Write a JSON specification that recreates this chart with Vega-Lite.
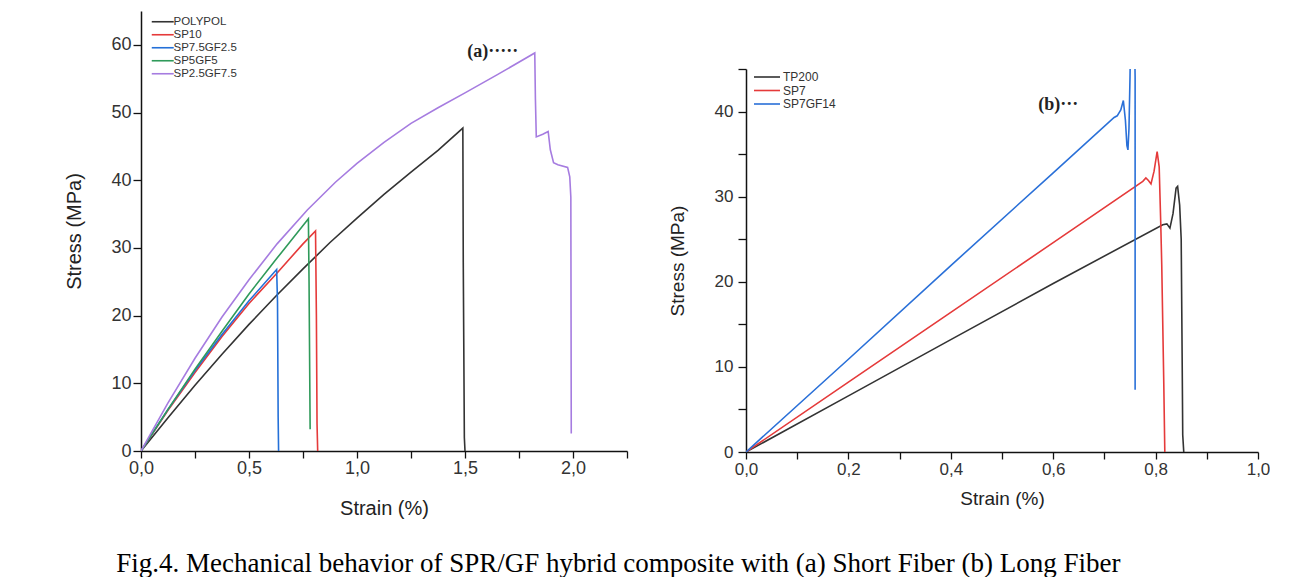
{
  "$schema": "https://vega.github.io/schema/vega-lite/v6.json",
  "padding": {"left": 64, "top": 11, "right": 0, "bottom": 0},
  "background": "white",
  "title": {
    "text": "Fig.4. Mechanical behavior of SPR/GF hybrid composite with (a) Short Fiber (b) Long Fiber",
    "orient": "bottom", "anchor": "middle", "font": "Liberation Serif", "fontSize": 27,
    "fontWeight": "normal", "color": "black", "offset": 33, "dx": -49
  },
  "datasets": {
    "short": [
      {"sample": "POLYPOL", "i": 0, "strain": 0, "stress": 0},
      {"sample": "POLYPOL", "i": 1, "strain": 0.125, "stress": 4.9},
      {"sample": "POLYPOL", "i": 2, "strain": 0.25, "stress": 9.7},
      {"sample": "POLYPOL", "i": 3, "strain": 0.375, "stress": 14.3},
      {"sample": "POLYPOL", "i": 4, "strain": 0.5, "stress": 18.7},
      {"sample": "POLYPOL", "i": 5, "strain": 0.625, "stress": 22.9},
      {"sample": "POLYPOL", "i": 6, "strain": 0.75, "stress": 26.9},
      {"sample": "POLYPOL", "i": 7, "strain": 0.875, "stress": 30.8},
      {"sample": "POLYPOL", "i": 8, "strain": 1.0, "stress": 34.4},
      {"sample": "POLYPOL", "i": 9, "strain": 1.125, "stress": 37.9},
      {"sample": "POLYPOL", "i": 10, "strain": 1.25, "stress": 41.2},
      {"sample": "POLYPOL", "i": 11, "strain": 1.375, "stress": 44.4},
      {"sample": "POLYPOL", "i": 12, "strain": 1.49, "stress": 47.7},
      {"sample": "POLYPOL", "i": 13, "strain": 1.492, "stress": 27.8},
      {"sample": "POLYPOL", "i": 14, "strain": 1.497, "stress": 2},
      {"sample": "POLYPOL", "i": 15, "strain": 1.5, "stress": 0},
      {"sample": "SP10", "i": 0, "strain": 0, "stress": 0},
      {"sample": "SP10", "i": 1, "strain": 0.125, "stress": 6.0},
      {"sample": "SP10", "i": 2, "strain": 0.25, "stress": 11.6},
      {"sample": "SP10", "i": 3, "strain": 0.375, "stress": 16.9},
      {"sample": "SP10", "i": 4, "strain": 0.5, "stress": 21.8},
      {"sample": "SP10", "i": 5, "strain": 0.63, "stress": 26.3},
      {"sample": "SP10", "i": 6, "strain": 0.75, "stress": 30.6},
      {"sample": "SP10", "i": 7, "strain": 0.808, "stress": 32.5},
      {"sample": "SP10", "i": 8, "strain": 0.812, "stress": 20},
      {"sample": "SP10", "i": 9, "strain": 0.815, "stress": 4},
      {"sample": "SP10", "i": 10, "strain": 0.818, "stress": 0},
      {"sample": "SP7.5GF2.5", "i": 0, "strain": 0, "stress": 0},
      {"sample": "SP7.5GF2.5", "i": 1, "strain": 0.125, "stress": 6.15},
      {"sample": "SP7.5GF2.5", "i": 2, "strain": 0.25, "stress": 11.9},
      {"sample": "SP7.5GF2.5", "i": 3, "strain": 0.375, "stress": 17.2},
      {"sample": "SP7.5GF2.5", "i": 4, "strain": 0.5, "stress": 22.2},
      {"sample": "SP7.5GF2.5", "i": 5, "strain": 0.628, "stress": 26.8},
      {"sample": "SP7.5GF2.5", "i": 6, "strain": 0.632, "stress": 22},
      {"sample": "SP7.5GF2.5", "i": 7, "strain": 0.635, "stress": 5},
      {"sample": "SP7.5GF2.5", "i": 8, "strain": 0.637, "stress": 0},
      {"sample": "SP5GF5", "i": 0, "strain": 0, "stress": 0},
      {"sample": "SP5GF5", "i": 1, "strain": 0.125, "stress": 6.15},
      {"sample": "SP5GF5", "i": 2, "strain": 0.25, "stress": 12.1},
      {"sample": "SP5GF5", "i": 3, "strain": 0.375, "stress": 17.7},
      {"sample": "SP5GF5", "i": 4, "strain": 0.5, "stress": 23.2},
      {"sample": "SP5GF5", "i": 5, "strain": 0.63, "stress": 28.5},
      {"sample": "SP5GF5", "i": 6, "strain": 0.775, "stress": 34.3},
      {"sample": "SP5GF5", "i": 7, "strain": 0.778, "stress": 25},
      {"sample": "SP5GF5", "i": 8, "strain": 0.783, "stress": 3.2},
      {"sample": "SP2.5GF7.5", "i": 0, "strain": 0, "stress": 0},
      {"sample": "SP2.5GF7.5", "i": 1, "strain": 0.125, "stress": 7.1},
      {"sample": "SP2.5GF7.5", "i": 2, "strain": 0.25, "stress": 13.7},
      {"sample": "SP2.5GF7.5", "i": 3, "strain": 0.375, "stress": 19.8},
      {"sample": "SP2.5GF7.5", "i": 4, "strain": 0.5, "stress": 25.3},
      {"sample": "SP2.5GF7.5", "i": 5, "strain": 0.63, "stress": 30.6},
      {"sample": "SP2.5GF7.5", "i": 6, "strain": 0.77, "stress": 35.6},
      {"sample": "SP2.5GF7.5", "i": 7, "strain": 0.9, "stress": 39.7},
      {"sample": "SP2.5GF7.5", "i": 8, "strain": 1.0, "stress": 42.5},
      {"sample": "SP2.5GF7.5", "i": 9, "strain": 1.125, "stress": 45.6},
      {"sample": "SP2.5GF7.5", "i": 10, "strain": 1.25, "stress": 48.4},
      {"sample": "SP2.5GF7.5", "i": 11, "strain": 1.375, "stress": 50.7},
      {"sample": "SP2.5GF7.5", "i": 12, "strain": 1.5, "stress": 52.9},
      {"sample": "SP2.5GF7.5", "i": 13, "strain": 1.65, "stress": 55.6},
      {"sample": "SP2.5GF7.5", "i": 14, "strain": 1.823, "stress": 58.8},
      {"sample": "SP2.5GF7.5", "i": 15, "strain": 1.826, "stress": 52},
      {"sample": "SP2.5GF7.5", "i": 16, "strain": 1.83, "stress": 46.4},
      {"sample": "SP2.5GF7.5", "i": 17, "strain": 1.86, "stress": 46.8},
      {"sample": "SP2.5GF7.5", "i": 18, "strain": 1.885, "stress": 47.2},
      {"sample": "SP2.5GF7.5", "i": 19, "strain": 1.895, "stress": 44.5},
      {"sample": "SP2.5GF7.5", "i": 20, "strain": 1.91, "stress": 42.6},
      {"sample": "SP2.5GF7.5", "i": 21, "strain": 1.93, "stress": 42.3},
      {"sample": "SP2.5GF7.5", "i": 22, "strain": 1.975, "stress": 41.9},
      {"sample": "SP2.5GF7.5", "i": 23, "strain": 1.985, "stress": 40.5},
      {"sample": "SP2.5GF7.5", "i": 24, "strain": 1.99, "stress": 37.5},
      {"sample": "SP2.5GF7.5", "i": 25, "strain": 1.991, "stress": 20},
      {"sample": "SP2.5GF7.5", "i": 26, "strain": 1.992, "stress": 2.6}
    ],
    "long": [
      {"sample": "TP200", "i": 0, "strain": 0, "stress": 0},
      {"sample": "TP200", "i": 1, "strain": 0.2, "stress": 6.6},
      {"sample": "TP200", "i": 2, "strain": 0.4, "stress": 13.2},
      {"sample": "TP200", "i": 3, "strain": 0.6, "stress": 19.8},
      {"sample": "TP200", "i": 4, "strain": 0.814, "stress": 26.7},
      {"sample": "TP200", "i": 5, "strain": 0.822, "stress": 26.8},
      {"sample": "TP200", "i": 6, "strain": 0.828, "stress": 26.3},
      {"sample": "TP200", "i": 7, "strain": 0.834, "stress": 28},
      {"sample": "TP200", "i": 8, "strain": 0.84, "stress": 31},
      {"sample": "TP200", "i": 9, "strain": 0.843, "stress": 31.2},
      {"sample": "TP200", "i": 10, "strain": 0.847, "stress": 29},
      {"sample": "TP200", "i": 11, "strain": 0.85, "stress": 25},
      {"sample": "TP200", "i": 12, "strain": 0.852, "stress": 10},
      {"sample": "TP200", "i": 13, "strain": 0.853, "stress": 2},
      {"sample": "TP200", "i": 14, "strain": 0.855, "stress": 0},
      {"sample": "SP7", "i": 0, "strain": 0, "stress": 0},
      {"sample": "SP7", "i": 1, "strain": 0.2, "stress": 8.2},
      {"sample": "SP7", "i": 2, "strain": 0.4, "stress": 16.4},
      {"sample": "SP7", "i": 3, "strain": 0.6, "stress": 24.6},
      {"sample": "SP7", "i": 4, "strain": 0.775, "stress": 31.8},
      {"sample": "SP7", "i": 5, "strain": 0.781, "stress": 32.2},
      {"sample": "SP7", "i": 6, "strain": 0.786, "stress": 31.9},
      {"sample": "SP7", "i": 7, "strain": 0.791, "stress": 31.5},
      {"sample": "SP7", "i": 8, "strain": 0.797, "stress": 33},
      {"sample": "SP7", "i": 9, "strain": 0.803, "stress": 35.3},
      {"sample": "SP7", "i": 10, "strain": 0.807, "stress": 33.5},
      {"sample": "SP7", "i": 11, "strain": 0.81, "stress": 27},
      {"sample": "SP7", "i": 12, "strain": 0.812, "stress": 22},
      {"sample": "SP7", "i": 13, "strain": 0.816, "stress": 8},
      {"sample": "SP7", "i": 14, "strain": 0.818, "stress": 0},
      {"sample": "SP7GF14", "i": 0, "strain": 0, "stress": 0},
      {"sample": "SP7GF14", "i": 1, "strain": 0.2, "stress": 10.9},
      {"sample": "SP7GF14", "i": 2, "strain": 0.4, "stress": 21.9},
      {"sample": "SP7GF14", "i": 3, "strain": 0.6, "stress": 32.8},
      {"sample": "SP7GF14", "i": 4, "strain": 0.719, "stress": 39.3},
      {"sample": "SP7GF14", "i": 5, "strain": 0.725, "stress": 39.5},
      {"sample": "SP7GF14", "i": 6, "strain": 0.732, "stress": 40.2},
      {"sample": "SP7GF14", "i": 7, "strain": 0.737, "stress": 41.3},
      {"sample": "SP7GF14", "i": 8, "strain": 0.741, "stress": 39},
      {"sample": "SP7GF14", "i": 9, "strain": 0.744, "stress": 36},
      {"sample": "SP7GF14", "i": 10, "strain": 0.746, "stress": 35.5},
      {"sample": "SP7GF14", "i": 11, "strain": 0.748, "stress": 38},
      {"sample": "SP7GF14", "i": 12, "strain": 0.75, "stress": 44},
      {"sample": "SP7GF14", "i": 13, "strain": 0.752, "stress": 52},
      {"sample": "SP7GF14", "i": 14, "strain": 0.758, "stress": 52},
      {"sample": "SP7GF14", "i": 15, "strain": 0.76, "stress": 44},
      {"sample": "SP7GF14", "i": 16, "strain": 0.76, "stress": 7.3}
    ],
    "annA": [{"label": "(a)·····", "strain": 1.51, "stress": 59}],
    "annB": [{"label": "(b)···", "strain": 0.571, "stress": 40.8}],
    "empty": []
  },
  "spacing": 40,
  "hconcat": [
    {
      "width": 486,
      "height": 440,
      "layer": [
        {
          "data": {"name": "short"},
          "mark": {"type": "line", "strokeWidth": 1.6, "clip": true},
          "encoding": {
            "x": {
              "field": "strain", "type": "quantitative",
              "scale": {"domain": [0, 2.25], "nice": false, "zero": false},
              "axis": {
                "title": "Strain (%)",
                "values": [0, 0.25, 0.5, 0.75, 1, 1.25, 1.5, 1.75, 2, 2.25],
                "labelExpr": "round(datum.value*100) % 50 == 0 ? replace(format(datum.value, '.1f'), '.', ',') : ''",
                "labelFontSize": 18, "titleFontSize": 20, "labelPadding": 1, "titlePadding": 21,
                "tickSize": 7
              }
            },
            "y": {
              "field": "stress", "type": "quantitative",
              "scale": {"domain": [0, 65], "nice": false},
              "axis": {
                "title": "Stress (MPa)",
                "values": [0, 5, 10, 15, 20, 25, 30, 35, 40, 45, 50, 55, 60, 65],
                "labelExpr": "datum.value % 10 == 0 ? datum.value : ''",
                "labelFontSize": 18, "titleFontSize": 20, "labelPadding": 2, "titlePadding": 26,
                "tickSize": 8
              }
            },
            "color": {
              "field": "sample", "type": "nominal",
              "scale": {
                "domain": ["POLYPOL", "SP10", "SP7.5GF2.5", "SP5GF5", "SP2.5GF7.5"],
                "range": ["#333333", "#e53a3a", "#2470d8", "#2f9a5a", "#a67ce0"]
              },
              "legend": {
                "title": null, "orient": "none", "legendX": 16, "legendY": 5,
                "symbolType": "M-11,0H11", "symbolSize": 4, "symbolStrokeWidth": 1.6,
                "labelOffset": 5, "labelFontSize": 11.5, "rowPadding": 0, "padding": 0,
                "labelColor": "#333"
              }
            },
            "order": {"field": "i", "type": "quantitative"}
          }
        },
        {
          "data": {"name": "annA"},
          "mark": {"type": "text", "align": "left", "baseline": "middle", "font": "Liberation Serif", "fontWeight": "bold", "fontSize": 18, "color": "#222"},
          "encoding": {
            "x": {"field": "strain", "type": "quantitative"},
            "y": {"field": "stress", "type": "quantitative"},
            "text": {"field": "label"}
          }
        }
      ]
    },
    {
      "spacing": 10,
      "vconcat": [
        {
          "width": 512,
          "height": 39,
          "data": {"name": "empty"},
          "mark": "point"
        },
        {
          "width": 512,
          "height": 383,
          "layer": [
            {
              "data": {"name": "long"},
              "mark": {"type": "line", "strokeWidth": 1.6, "clip": true},
              "encoding": {
                "x": {
                  "field": "strain", "type": "quantitative",
                  "scale": {"domain": [0, 1], "nice": false, "zero": false},
                  "axis": {
                    "title": "Strain (%)",
                    "values": [0, 0.1, 0.2, 0.3, 0.4, 0.5, 0.6, 0.7, 0.8, 0.9, 1],
                    "labelExpr": "round(datum.value*10) % 2 == 0 ? replace(format(datum.value, '.1f'), '.', ',') : ''",
                    "labelFontSize": 17, "titleFontSize": 19, "labelPadding": 2, "titlePadding": 12,
                    "tickSize": 7
                  }
                },
                "y": {
                  "field": "stress", "type": "quantitative",
                  "scale": {"domain": [0, 45], "nice": false},
                  "axis": {
                    "title": "Stress (MPa)",
                    "values": [0, 5, 10, 15, 20, 25, 30, 35, 40, 45],
                    "labelExpr": "datum.value % 10 == 0 ? datum.value : ''",
                    "labelFontSize": 17, "titleFontSize": 19, "labelPadding": 5, "titlePadding": 27,
                    "tickSize": 8
                  }
                },
                "color": {
                  "field": "sample", "type": "nominal",
                  "scale": {
                    "domain": ["TP200", "SP7", "SP7GF14"],
                    "range": ["#333333", "#e53a3a", "#2a70d8"]
                  },
                  "legend": {
                    "title": null, "orient": "none", "legendX": 15, "legendY": 60,
                    "symbolType": "M-13,0H13", "symbolSize": 4, "symbolStrokeWidth": 1.6,
                    "labelOffset": 10, "labelFontSize": 12, "rowPadding": 1.5, "padding": 0,
                    "labelColor": "#333"
                  }
                },
                "order": {"field": "i", "type": "quantitative"}
              }
            },
            {
              "data": {"name": "annB"},
              "mark": {"type": "text", "align": "left", "baseline": "middle", "font": "Liberation Serif", "fontWeight": "bold", "fontSize": 18, "color": "#222"},
              "encoding": {
                "x": {"field": "strain", "type": "quantitative"},
                "y": {"field": "stress", "type": "quantitative"},
                "text": {"field": "label"}
              }
            }
          ]
        }
      ]
    }
  ],
  "resolve": {"scale": {"color": "independent"}},
  "config": {
    "view": {"stroke": null},
    "font": "Liberation Sans",
    "axis": {
      "grid": false, "domainColor": "#111", "domainWidth": 1.5, "tickColor": "#111", "tickWidth": 1.3,
      "labelColor": "#333", "titleColor": "#222", "titleFontWeight": "normal",
      "labelFont": "Liberation Sans", "titleFont": "Liberation Sans",
      "labelFlush": false, "labelOverlap": false, "labelBound": false
    },
    "legend": {"labelFont": "Liberation Sans"}
  }
}
